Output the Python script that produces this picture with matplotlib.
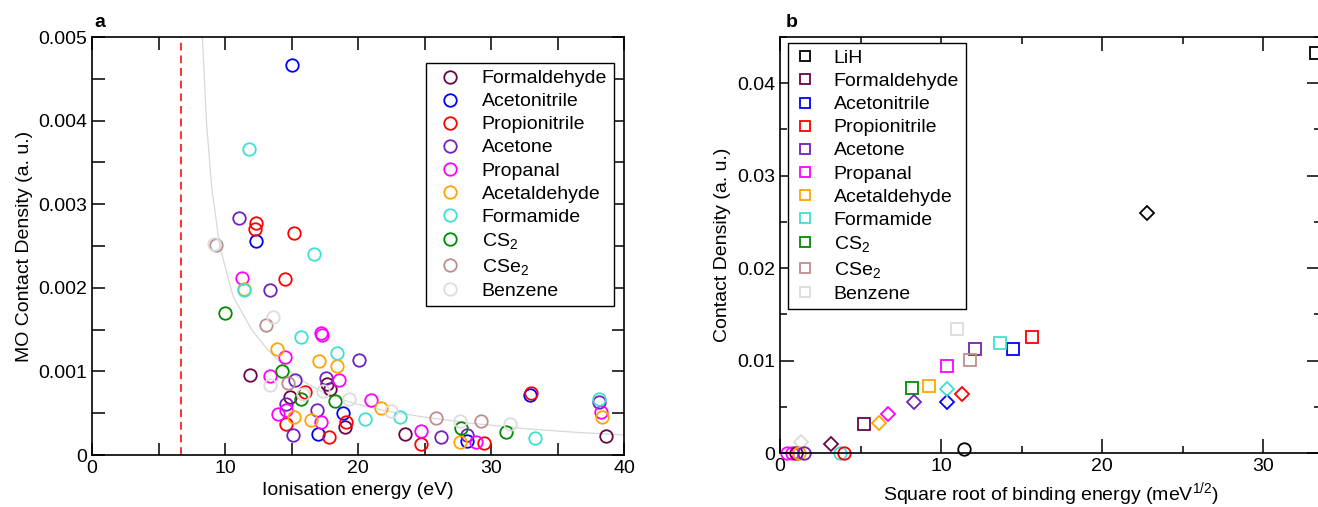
import matplotlib
matplotlib.use("Agg")
import matplotlib.pyplot as plt
from matplotlib.ticker import MultipleLocator, FuncFormatter

plt.rcParams["font.family"] = ["Liberation Sans", "DejaVu Sans"]
plt.rcParams["mathtext.default"] = "regular"
plt.rcParams["font.size"] = 14

# molecule names and grace-like colours
molecules = ["Formaldehyde", "Acetonitrile", "Propionitrile", "Acetone", "Propanal",
             "Acetaldehyde", "Formamide", "CS$_2$", "CSe$_2$", "Benzene"]
colors = ["#670748", "#0000ff", "#ff0000", "#7221bc", "#ff00ff",
          "#ffa500", "#40e0d0", "#008b00", "#bc8f8f", "#dcdcdc"]

# panel a: ionisation energy (eV) vs MO contact density, one list per molecule
ie_x = [
    [11.85, 14.85, 17.7, 17.9, 19.0, 23.5, 38.65],
    [15.0, 12.3, 18.9, 17.0, 28.2, 32.9],
    [12.3, 12.25, 15.2, 14.5, 16.0, 14.55, 19.1, 17.8, 24.7, 29.5, 33.0],
    [11.05, 13.4, 20.05, 15.3, 17.6, 14.55, 16.95, 15.1, 26.25, 28.2, 38.1],
    [11.25, 17.2, 17.3, 14.5, 13.4, 18.6, 21.0, 14.6, 14.0, 17.25, 24.7, 28.85, 38.3],
    [11.4, 13.9, 17.1, 18.4, 15.2, 16.5, 21.7, 27.7, 38.35],
    [11.8, 16.7, 11.45, 15.7, 18.4, 20.55, 23.15, 33.3, 38.1],
    [10.0, 14.3, 15.75, 18.3, 27.75, 31.1],
    [9.3, 13.1, 14.7, 25.9, 29.25],
    [9.2, 13.6, 13.35, 15.9, 17.4, 19.35, 22.5, 27.7, 31.4],
]
ie_y = [
    [0.00096, 0.00069, 0.00085, 0.00079, 0.00034, 0.00025, 0.00023],
    [0.00467, 0.00256, 0.00050, 0.00025, 0.00017, 0.00072],
    [0.00277, 0.00270, 0.00266, 0.00211, 0.00075, 0.00037, 0.00039, 0.00022, 0.00013, 0.00014, 0.00074],
    [0.00284, 0.00197, 0.00114, 0.00090, 0.00092, 0.00061, 0.00054, 0.00024, 0.00022, 0.00024, 0.00063],
    [0.00212, 0.00146, 0.00144, 0.00117, 0.00094, 0.00090, 0.00066, 0.00054, 0.00049, 0.00039, 0.00029, 0.00016, 0.00051],
    [0.00198, 0.00127, 0.00112, 0.00106, 0.00046, 0.00042, 0.00056, 0.00016, 0.00046],
    [0.00366, 0.00240, 0.00197, 0.00141, 0.00122, 0.00043, 0.00045, 0.00020, 0.00067],
    [0.00170, 0.00101, 0.00067, 0.00065, 0.00032, 0.00027],
    [0.00251, 0.00156, 0.00086, 0.00044, 0.00041],
    [0.00252, 0.00165, 0.00084, 0.00073, 0.00077, 0.00067, 0.00053, 0.00041, 0.00037],
]

# grey guide curve
curve_x = [8.3, 8.6, 9.0, 9.6, 10.6, 12.0, 13.1, 14.5, 15.9, 17.5, 19.4, 22.0, 24.7, 28.5, 32.9, 36.5, 40.0]
curve_y = [0.0050, 0.0040, 0.0032, 0.0025, 0.0019, 0.0015, 0.00128, 0.00105, 0.00088, 0.00074, 0.00063, 0.00053, 0.00046, 0.00038, 0.00031, 0.00027, 0.00024]
threshold = 6.7

# panel b: sqrt binding energy vs contact density
b_names = ["LiH"] + molecules
b_colors = ["#000000"] + colors
sq_x = [33.3, 5.2, 14.45, 15.65, 12.1, 10.4, 9.25, 13.65, 8.2, 11.8, 10.98]
sq_y = [0.0433, 0.00316, 0.0113, 0.0125, 0.0113, 0.0094, 0.0073, 0.0119, 0.00705, 0.0101, 0.01345]
# diamonds (index into b_names)
dia_idx = [0, 1, 2, 3, 4, 5, 6, 7, 10]
dia_x = [22.8, 3.15, 10.4, 11.3, 8.3, 6.7, 6.15, 10.4, 1.3]
dia_y = [0.026, 0.00097, 0.00553, 0.00636, 0.00553, 0.00418, 0.0032, 0.00694, 0.0012]
# circles (index into b_names)
circ_idx = [0, 5, 5, 1, 6, 4, 7, 3]
circ_x = [11.4, 0.45, 0.75, 0.98, 1.19, 1.52, 3.75, 3.96]
circ_y = [0.0004, 0.0, 0.0, 0.0, 0.0, 0.0, 0.0, 0.0]

fig = plt.figure(figsize=(13.18, 5.07), dpi=100)
axa = fig.add_axes([92 / 1318, 52 / 507, 532 / 1318, 418 / 507])
axb = fig.add_axes([780 / 1318, 54 / 507, 541 / 1318, 416 / 507])

# ---- panel a
axa.axvline(threshold, color="#ff3030", ls=(0, (4, 2.5)), lw=1.4)
axa.plot(curve_x, curve_y, color="#d8d8d8", lw=0.9)
for name, c, xs, ys in zip(molecules, colors, ie_x, ie_y):
    axa.plot(xs, ys, "o", mfc="none", mec=c, ms=9, mew=1.3, label=name)

axa.set_xlim(0, 40)
axa.set_ylim(0, 0.005)
axa.xaxis.set_major_locator(MultipleLocator(10))
axa.xaxis.set_minor_locator(MultipleLocator(5))
axa.yaxis.set_major_locator(MultipleLocator(0.001))
axa.yaxis.set_minor_locator(MultipleLocator(0.0005))
axa.set_xlabel("Ionisation energy (eV)")
axa.set_ylabel("MO Contact Density (a. u.)")
axa.legend(loc="upper right", bbox_to_anchor=(0.981, 0.938), frameon=True, fancybox=False,
           edgecolor="black", framealpha=1, handlelength=1.75, handletextpad=0.77,
           labelspacing=0.28, borderpad=0.35, borderaxespad=0)
axa.text(0.005, 1.025, "a", transform=axa.transAxes, fontweight="bold", fontsize=14)

# ---- panel b
for name, c, x, y in zip(b_names, b_colors, sq_x, sq_y):
    axb.plot([x], [y], "s", mfc="none", mec=c, ms=9, mew=1.3, label=name, clip_on=False)
for i, x, y in zip(dia_idx, dia_x, dia_y):
    axb.plot([x], [y], "D", mfc="none", mec=b_colors[i], ms=6.8, mew=1.3, clip_on=False)
for i, x, y in zip(circ_idx, circ_x, circ_y):
    axb.plot([x], [y], "o", mfc="none", mec=b_colors[i], ms=9, mew=1.3, clip_on=False)

axb.set_xlim(0, 33.6)
axb.set_ylim(0, 0.045)
axb.xaxis.set_major_locator(MultipleLocator(10))
axb.xaxis.set_minor_locator(MultipleLocator(5))
axb.yaxis.set_major_locator(MultipleLocator(0.01))
axb.yaxis.set_minor_locator(MultipleLocator(0.005))
axb.set_xlabel("Square root of binding energy (meV$^{1/2}$)")
axb.set_ylabel("Contact Density (a. u.)")
axb.legend(loc="upper left", bbox_to_anchor=(0.015, 0.986), frameon=True, fancybox=False,
           edgecolor="black", framealpha=1, handlelength=1.0, handletextpad=1.0,
           labelspacing=0.28, borderpad=0.35, borderaxespad=0, markerscale=0.8)
axb.text(0.01, 1.025, "b", transform=axb.transAxes, fontweight="bold", fontsize=14)

fmt = FuncFormatter(lambda v, p: "0" if abs(v) < 1e-12 else f"{v:g}")
for ax in (axa, axb):
    ax.xaxis.set_major_formatter(fmt)
    ax.yaxis.set_major_formatter(fmt)
    ax.tick_params(which="both", direction="in", top=True, right=True, labelsize=14, width=1.1)
    for s in ax.spines.values():
        s.set_linewidth(1.2)
axa.tick_params(which="major", length=9)
axa.tick_params(which="minor", length=9)
axb.tick_params(which="major", length=10)
axb.tick_params(which="minor", length=5)

fig.savefig("out.png", dpi=100)
